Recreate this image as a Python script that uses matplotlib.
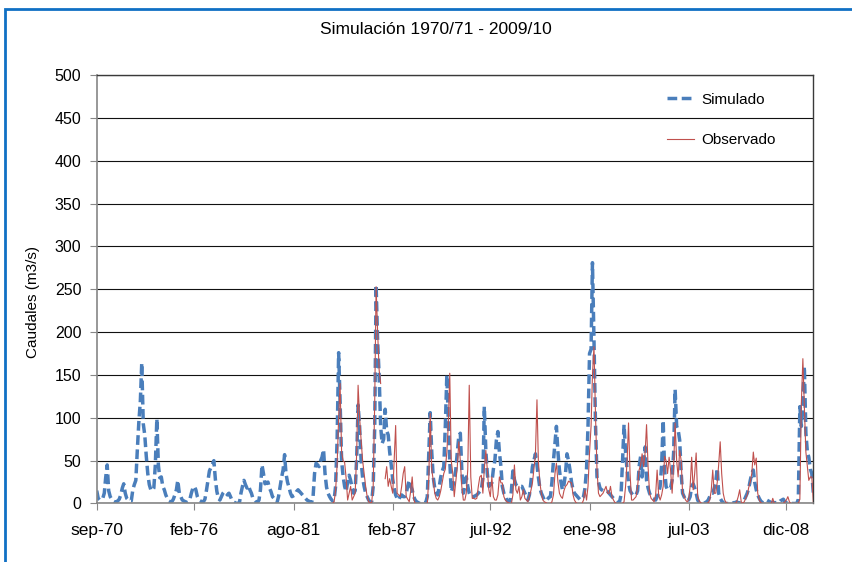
import numpy as np
import pandas as pd
import matplotlib
matplotlib.use("Agg")
import matplotlib.pyplot as plt
from matplotlib.patches import Rectangle

plt.rcParams["font.family"] = ["Liberation Sans", "DejaVu Sans"]

nan = np.nan

# monthly flows (m3/s), simulated from sep-70, observed from oct-83
sim_start = "1970-09-01"
obs_start = "1983-10-01"

simulado = [
    15, 6, 4, 5, 6, 12, 30, 45, 15, 8, 5, 3,
    2, 2, 3, 5, 10, 18, 23, 12, 6, 4, 3, 3,
    16, 22, 27, 62, 95, 120, 164, 93, 80, 55, 35, 22,
    16, 15, 18, 45, 99, 45, 30, 31, 20, 16, 10, 6,
    3, 2, 2, 5, 10, 16, 27, 12, 8, 4, 3, 2,
    1, 2, 5, 12, 18, 20, 16, 8, 4, 3, 2, 2,
    5, 15, 27, 38, 42, 46, 50, 28, 14, 6, 4, 8,
    12, 14, 12, 10, 12, 8, 4, 2, 1, 0, 0, 1, 12,
    20, 27, 22, 18, 21, 16, 12, 6, 4, 2, 1, 4,
    16, 45, 35, 23, 24, 25, 18, 14, 8, 6, 3, 1,
    8, 19, 30, 39, 57, 35, 25, 19, 12, 8, 9, 10,
    14, 16, 14, 12, 10, 8, 6, 4, 3, 2, 1, 8,
    35, 47, 45, 43, 50, 54, 63, 35, 19, 12, 8, 5,
    3, 4, 20, 74, 176, 120, 50, 32, 20, 14, 25, 33,
    27, 18, 12, 15, 54, 115, 90, 50, 30, 20, 12, 8,
    4, 2, 2, 20, 90, 255, 190, 150, 90, 70, 75, 110,
    85, 80, 60, 45, 28, 18, 10, 6, 4, 8, 10, 8,
    8, 12, 20, 27, 20, 16, 8, 4, 2, 1, 0, 0,
    0, 0, 1, 8, 60, 106, 60, 31, 18, 12, 10, 20,
    31, 38, 43, 90, 150, 100, 50, 14, 19, 28, 39, 60,
    78, 82, 39, 12, 20, 31, 20, 12, 8, 8, 8, 9, 10,
    12, 14, 16, 30, 113, 62, 35, 20, 22, 24, 40, 50,
    74, 84, 60, 43, 20, 12, 8, 4, 2, 2, 15, 38,
    28, 22, 20, 20, 20, 20, 16, 12, 8, 4, 10, 25,
    43, 50, 58, 45, 31, 18, 12, 8, 4, 3, 5, 7,
    8, 25, 50, 70, 90, 60, 39, 25, 16, 22, 35, 58,
    50, 39, 25, 16, 12, 10, 8, 6, 4, 6, 8, 18,
    40, 90, 175, 180, 281, 191, 94, 31, 25, 18, 16, 15,
    16, 15, 14, 12, 10, 8, 6, 4, 2, 1, 2, 10,
    50, 92, 60, 39, 24, 15, 12, 10, 9, 10, 15, 43,
    55, 31, 48, 66, 27, 18, 12, 8, 6, 5, 4, 8,
    12, 20, 45, 97, 40, 20, 16, 18, 18, 27, 60, 133,
    90, 86, 74, 35, 12, 8, 4, 3, 4, 8, 20, 23,
    18, 12, 4, 1, 0, 0, 0, 1, 2, 4, 8, 12,
    12, 18, 25, 41, 12, 6, 3, 1, 0, 0, 0, 0, 0,
    0, 1, 1, 2, 1, 0, 1, 2, 4, 8, 12, 18,
    27, 35, 39, 25, 16, 10, 6, 3, 1, 1, 2, 4,
    3, 2, 1, 1, 1, 1, 1, 1, 3, 4, 5, 2,
    1, 1, 0, 0, 0, 0, 0, 0, 5, 113, 90, 120,
    160, 82, 60, 54, 40, 35, 12,
]

observado = [
    0, 2, 15, 45, 100, 140, 60, 50, 48, 30, 4, 12,
    20, 4, 8, 12, 60, 138, 100, 74, 50, 35, 20, 8,
    2, 1, 1, 20, 120, 253, 200, 156, 140, nan, nan, 29,
    43, 20, 29, 20, 12, 50, 91, 12, 10, 8, 20, 35,
    43, 8, 5, 2, 15, 31, 5, 0, 0, 0, 0, 0,
    0, 0, 0, 0, 30, 105, 40, 27, 12, 6, 4, 8,
    15, 25, 35, 40, 60, 90, 152, 50, 35, 8, 25, 43,
    72, 50, 20, 4, 4, 12, 40, 138, 31, 6, 6, 5, 6,
    20, 31, 33, 12, 40, 62, 39, 16, 8, 31, 8, 4,
    4, 10, 31, 24, 24, 8, 4, 2, 1, 0, 0, 10,
    45, 16, 12, 20, 4, 8, 16, 6, 4, 2, 8, 15,
    24, 40, 58, 121, 50, 24, 12, 4, 2, 1, 0, 0,
    0, 2, 10, 35, 47, 25, 12, 8, 6, 15, 20, 22,
    26, 25, 24, 10, 4, 1, 0, 0, 0, 0, 4, 16,
    4, 20, 60, 90, 150, 183, 105, 40, 12, 8, 10, 12,
    16, 20, 12, 12, 20, 8, 4, 1, 0, 0, 0, 0,
    0, 2, 20, 50, 94, 35, 4, 4, 6, 8, 20, 39,
    45, 58, 43, 60, 92, 43, 12, 6, 4, 2, 10, 39,
    10, 4, 10, 20, 55, 50, 35, 54, 39, 12, 45, 94,
    50, 31, 62, 50, 12, 8, 4, 2, 4, 20, 54, 16,
    35, 59, 8, 3, 1, 0, 0, 0, 0, 1, 4, 15,
    39, 12, 12, 25, 45, 72, 35, 12, 4, 1, 0, 0, 0,
    0, 0, 0, 2, 8, 16, 2, 0, 2, 6, 10, 19,
    25, 35, 60, 45, 53, 12, 4, 1, 0, 0, 0, 0,
    0, 0, 0, 6, 0, 0, 0, 0, 0, 0, 0, 2,
    4, 8, 2, 0, 0, 0, 0, 0, 0, 5, 117, 169,
    113, 60, 43, 27, 31, 31, 2,
]

tick_dates = ["1970-09", "1976-02", "1981-08", "1987-02",
              "1992-07", "1998-01", "2003-07", "2008-12"]
tick_labels = ["sep-70", "feb-76", "ago-81", "feb-87",
               "jul-92", "ene-98", "jul-03", "dic-08"]
y_ticks = list(range(0, 501, 50))


def plot_caudales(save_path="out.png"):
    fig = plt.figure(figsize=(8.53, 5.62), dpi=100)
    ax = fig.add_axes([0.1134, 0.1041, 0.8401, 0.7624])

    x_sim = pd.date_range(sim_start, periods=len(simulado), freq="MS")
    x_obs = pd.date_range(obs_start, periods=len(observado), freq="MS")

    ax.plot(x_sim, simulado, color="#4a7ebb", linewidth=2.5, dashes=(2.8, 1.3),
            label="Simulado", zorder=2)
    ax.plot(x_obs, observado, color="#c0504d", linewidth=0.8,
            label="Observado", zorder=3)

    ax.set_xlim(x_sim[0], x_sim[-1])
    ax.set_ylim(0, 500)
    ax.set_yticks(y_ticks)
    ax.set_xticks(pd.to_datetime(tick_dates))
    ax.set_xticklabels(tick_labels)
    ax.tick_params(axis="both", direction="out", length=5, color="#868686",
                   labelsize=11.5, pad=6)
    ax.tick_params(axis="x", labelsize=12.5, pad=9)

    ax.grid(axis="y", color="#111111", linewidth=0.8)
    ax.set_axisbelow(True)
    for side in ["left", "bottom"]:
        ax.spines[side].set_color("#868686")
        ax.spines[side].set_linewidth(1.2)
    for side in ["top", "right"]:
        ax.spines[side].set_color("#3a3a3a")
        ax.spines[side].set_linewidth(1.0)

    ax.set_ylabel("Caudales (m3/s)", fontsize=11)
    ax.yaxis.set_label_coords(-0.0795, 0.47)

    ax.legend(loc="upper left", bbox_to_anchor=(0.785, 0.977), frameon=False,
              fontsize=11, handlelength=1.8, handletextpad=0.45,
              labelspacing=1.75, borderpad=0)

    fig.text(436 / 853, 1 - 30 / 562, "Simulación 1970/71 - 2009/10",
             ha="center", va="center", fontsize=12.5)

    # blue chart-area border (only left and top are in frame)
    fig.add_artist(Rectangle((5.5 / 853, -0.1), 1.2, 1.1 - 8.5 / 562,
                             transform=fig.transFigure, fill=False,
                             edgecolor="#1070c4", linewidth=2.0))

    fig.savefig(save_path, dpi=100)
    plt.close(fig)


plot_caudales()
